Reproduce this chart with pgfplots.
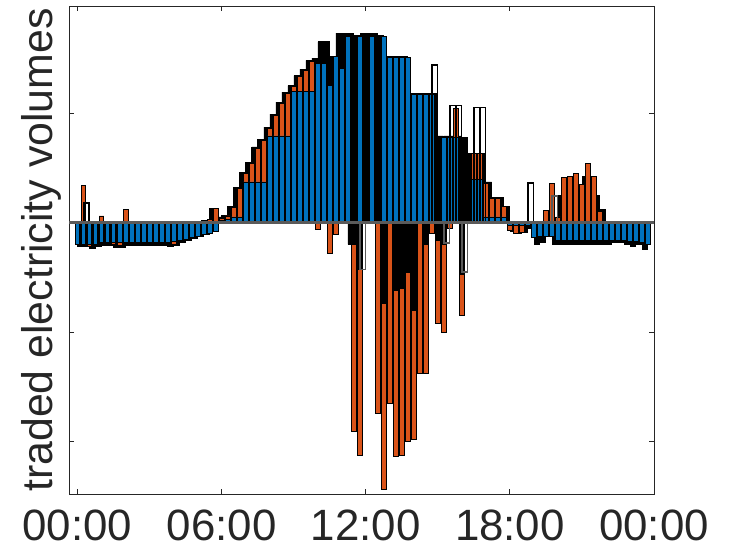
\documentclass[border=0pt]{standalone}
\usepackage{pgfplots}
\usepackage{pgfplotstable}
\pgfplotsset{compat=1.18}
\usepackage{fontspec}
\setmainfont{Liberation Sans}
\definecolor{mblue}{RGB}{0,114,189}
\definecolor{morange}{RGB}{217,83,25}
\definecolor{axgray}{RGB}{38,38,38}
\definecolor{zgray}{RGB}{90,90,90}

% blue bars
\pgfplotstableread{
x y
0 -0.20
1 -0.20
2 -0.20
3 -0.20
4 -0.18
5 -0.18
6 -0.18
7 -0.18
8 -0.18
9 -0.18
10 -0.18
11 -0.18
12 -0.18
13 -0.18
14 -0.18
15 -0.18
16 -0.17
17 -0.16
18 -0.15
19 -0.14
20 -0.13
21 -0.11
22 -0.10
23 -0.08
24 0.02
25 0.03
26 0.05
27 0.05
28 0.37
29 0.37
30 0.37
31 0.37
32 0.79
33 0.79
34 0.79
35 0.79
36 1.20
37 1.20
38 1.20
39 1.20
40 1.45
41 1.45
42 1.25
43 1.52
44 1.41
45 1.70
47 1.70
49 1.70
51 1.70
52 1.51
53 1.51
54 1.51
55 1.51
56 1.17
57 1.17
58 1.17
59 1.17
61 0.78
62 0.78
63 0.78
66 0.39
67 0.39
68 0.05
69 0.05
70 0.05
71 0.05
72 -0.03
73 -0.03
74 -0.03
75 -0.03
76 -0.14
77 -0.13
78 -0.13
79 -0.13
80 -0.16
81 -0.16
82 -0.16
83 -0.16
84 -0.16
85 -0.16
86 -0.16
87 -0.16
88 -0.16
89 -0.16
90 -0.16
91 -0.16
92 -0.17
93 -0.17
94 -0.18
95 -0.20
}\tblB

% orange bars
\pgfplotstableread{
x y
0 -0.20
1 0.34
2 -0.22
3 -0.20
4 0.06
5 -0.18
6 -0.20
7 -0.21
8 0.12
9 -0.18
10 -0.18
11 -0.18
12 -0.18
13 -0.18
14 -0.18
15 -0.18
16 -0.20
17 -0.16
18 -0.15
19 -0.14
20 -0.12
21 0.02
22 0.03
23 0.13
24 0.04
25 0.06
26 0.14
27 0.31
28 0.45
29 0.54
30 0.68
31 0.75
32 0.86
33 0.98
34 1.09
35 1.18
36 1.24
37 1.33
38 1.39
39 1.47
40 -0.06
42 -0.28
43 -0.11
46 -1.91
47 -2.13
50 -1.74
51 -2.44
52 -1.65
53 -2.14
54 -2.13
55 -2.00
56 -1.98
57 -1.38
58 -1.38
59 -0.10
60 -0.92
61 -1.00
62 -0.05
63 1.04
64 -0.85
66 0.63
67 0.63
68 0.36
69 0.22
70 0.22
71 0.15
72 -0.07
73 -0.10
74 -0.09
76 -0.05
77 -0.10
78 0.11
79 0.36
80 0.05
81 0.41
82 0.42
83 0.45
84 0.35
85 0.54
86 0.42
87 0.10
88 -0.12
89 -0.12
90 -0.12
91 -0.12
92 -0.12
93 -0.12
94 -0.12
95 -0.12
}\tblO

% black bars drawn over the orange ones
\pgfplotstableread{
x y
60 0.78
64 0.76
65 0.39
46 -0.20
47 -0.43
51 -0.74
53 -0.62
54 -0.60
55 -0.46
56 -0.80
58 -0.20
60 -0.16
61 -0.20
64 -0.47
}\tblK

% black filled bars, drawn behind (half steps)
\pgfplotstableread{
x y
0.5 -0.22
1.5 -0.22
2.5 -0.24
3.5 -0.22
4.5 -0.21
5.5 -0.21
6.5 -0.23
7.5 -0.23
8.5 -0.21
9.5 -0.21
10.5 -0.21
11.5 -0.21
12.5 -0.21
13.5 -0.21
14.5 -0.21
15.5 -0.22
16.5 -0.21
17.5 -0.18
18.5 -0.16
19.5 -0.15
20.5 -0.13
21.5 -0.11
22.5 0.13
23.5 0.05
24.5 0.06
25.5 0.15
26.5 0.32
27.5 0.46
28.5 0.55
29.5 0.69
30.5 0.76
31.5 0.87
32.5 0.99
33.5 1.10
34.5 1.19
35.5 1.25
36.5 1.34
37.5 1.40
38.5 1.48
39.5 1.50
40.5 1.65
41.5 1.65
42.5 1.52
43.5 1.73
44.5 1.73
45.5 1.73
46.5 1.71
47.5 1.73
48.5 1.73
49.5 1.73
50.5 1.71
51.5 1.52
52.5 1.52
53.5 1.52
54.5 1.52
55.5 1.18
56.5 1.18
57.5 1.18
58.5 1.18
59.5 1.18
60.5 0.79
61.5 0.79
62.5 0.79
63.5 0.79
64.5 0.78
65.5 0.63
66.5 0.63
67.5 0.63
68.5 0.37
69.5 0.23
70.5 0.23
71.5 0.15
72.5 -0.08
73.5 -0.10
74.5 -0.09
75.5 -0.05
76.5 -0.20
77.5 -0.18
78.5 0.11
79.5 -0.20
80.5 0.25
81.5 0.30
82.5 0.32
83.5 0.30
84.5 0.42
85.5 0.36
86.5 0.25
87.5 0.12
80.5 -0.20
81.5 -0.20
82.5 -0.20
83.5 -0.20
84.5 -0.20
85.5 -0.20
86.5 -0.20
87.5 -0.20
88.5 -0.20
89.5 -0.18
90.5 -0.18
91.5 -0.20
92.5 -0.22
93.5 -0.20
94.5 -0.25
45.5 -0.20
46.5 -0.43
50.5 -0.74
51.5 -0.70
52.5 -0.62
53.5 -0.60
54.5 -0.78
55.5 -0.80
57.5 -0.20
59.5 -0.10
60.5 -0.16
}\tblF

% hollow bars, black edge
\pgfplotstableread{
x y
1.5 0.18
59.5 1.44
62.5 1.07
63.5 1.07
66.5 1.05
67.5 1.05
75.5 0.36
}\tblH

% hollow bars, grey edge
\pgfplotstableread{
x y
47.5 -0.43
61.5 -0.19
64.5 -0.45
79.5 0.24
}\tblG

\begin{document}
\begin{tikzpicture}
\begin{axis}[
  width=585bp, height=488bp, scale only axis,
  xmin=-1.4, xmax=96, ymin=-2.48, ymax=1.977,
  xtick={0,24,48,72,96},
  xticklabels={00:00,06:00,12:00,18:00,00:00},
  ytick={-2,-1,0,1}, yticklabels={},
  tick align=inside, major tick length=5bp,
  axis line style={axgray, line width=0.8bp},
  every tick/.style={axgray, line width=0.8bp},
  tick label style={font=\fontsize{44}{44}\selectfont, text=axgray, inner sep=0pt},
  xticklabel style={anchor=base, yshift=-46bp},
  ylabel={traded electricity volumes},
  ylabel style={font=\fontsize{43}{43}\selectfont, text=axgray, inner sep=0pt,
    at={(axis description cs:-0.02906,0.5)}, anchor=base},
  clip=true,
]
\addplot[ybar, bar width=0.9, bar shift=0pt, fill=black, draw=black, line width=0.8bp] table[x=x,y=y] {\tblF};
\addplot[ybar, bar width=0.8, bar shift=0pt, fill=morange, draw=black, line width=0.7bp] table[x=x,y=y] {\tblO};
\addplot[ybar, bar width=0.85, bar shift=0pt, fill=black, draw=black, line width=0.7bp] table[x=x,y=y] {\tblK};
\addplot[ybar, bar width=0.8, bar shift=0pt, fill=mblue, draw=black, line width=0.7bp] table[x=x,y=y] {\tblB};
\addplot[ybar, bar width=0.9, bar shift=0pt, fill=none, draw=black, line width=1.6bp] table[x=x,y=y] {\tblH};
\addplot[ybar, bar width=0.9, bar shift=0pt, fill=none, draw=zgray, line width=1.6bp] table[x=x,y=y] {\tblG};
\addplot[sharp plot, draw=zgray, line width=3bp, mark=none] coordinates {(-1.4,0) (96,0)};
\end{axis}
\pgfresetboundingbox
\path[use as bounding box] (-69bp,-54bp) rectangle (663bp,494bp);
\end{tikzpicture}
\end{document}
